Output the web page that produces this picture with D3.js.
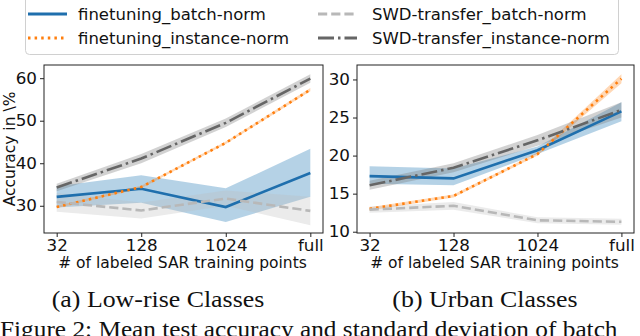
<!DOCTYPE html>
<html><head><meta charset="utf-8">
<script src="https://cdn.jsdelivr.net/npm/d3@7"></script>
<style>body{margin:0;background:#fff}svg{display:block}</style>
</head><body>
<svg id="c" width="640" height="336"></svg>
<script>
const categories = ["32", "128", "1024", "full"];
const seriesNames = ["finetuning_batch-norm", "finetuning_instance-norm", "SWD-transfer_batch-norm", "SWD-transfer_instance-norm"];
// Low-rise panel: mean, lower, upper
const lowMeanFtBN = [32.1, 34.0, 29.7, 37.7];
const lowLoFtBN   = [29.6, 30.7, 26.2, 32.1];
const lowHiFtBN   = [34.6, 37.2, 34.1, 43.4];
const lowMeanFtIN = [29.7, 34.4, 44.8, 57.3];
const lowLoFtIN   = [29.4, 34.1, 44.5, 56.9];
const lowHiFtIN   = [30.0, 34.7, 45.1, 57.7];
const lowMeanSwdBN = [30.9, 28.9, 31.7, 28.8];
const lowLoSwdBN   = [28.6, 27.0, 30.0, 25.4];
const lowHiSwdBN   = [33.0, 30.8, 33.6, 32.1];
const lowMeanSwdIN = [34.3, 41.1, 49.5, 59.9];
const lowLoSwdIN   = [33.4, 40.0, 48.5, 58.9];
const lowHiSwdIN   = [35.2, 42.2, 50.5, 60.9];
// Urban panel
const urbMeanFtBN = [17.3, 17.0, 20.7, 25.8];
const urbLoFtBN   = [16.3, 16.1, 20.2, 24.5];
const urbHiFtBN   = [18.6, 18.3, 21.2, 27.0];
const urbMeanFtIN = [13.0, 14.7, 20.2, 30.1];
const urbLoFtIN   = [12.8, 14.5, 20.0, 29.5];
const urbHiFtIN   = [13.2, 14.9, 20.4, 30.7];
const urbMeanSwdBN = [12.9, 13.4, 11.5, 11.3];
const urbLoSwdBN   = [12.5, 12.9, 11.1, 10.9];
const urbHiSwdBN   = [13.3, 13.9, 11.9, 11.7];
const urbMeanSwdIN = [16.1, 18.4, 22.0, 26.0];
const urbLoSwdIN   = [15.5, 17.8, 21.3, 25.0];
const urbHiSwdIN   = [16.7, 19.0, 22.7, 27.0];
const lowTicks = [30, 40, 50, 60];
const urbTicks = [10, 15, 20, 25, 30];
const xLabel = "# of labeled SAR training points";
const yLabel = "Accuracy in \\%";
const captions = ["(a) Low-rise Classes", "(b) Urban Classes"];
const figCaption = "Figure 2:  Mean test accuracy and standard deviation of batch";

const styles = [
  {color:"#1f6fad", fill:"#1f77b4", fo:0.33, dash:null},
  {color:"#ff7f0e", fill:"#ff7f0e", fo:0.3, dash:"2.5,4.1"},
  {color:"#b8b8b8", fill:"#bdbdbd", fo:0.3, dash:"9.2,4"},
  {color:"#666666", fill:"#777777", fo:0.33, dash:"16,4,2.5,4"}
];
const svg = d3.select("#c");
const font = "DejaVu Sans, sans-serif";
const serif = "Liberation Serif, Times New Roman, serif";
const SX = 1.08; // horizontal stretch of the reference raster

function stretch(sel, k){
  sel.each(function(){ const w = this.getComputedTextLength();
    d3.select(this).attr("textLength", w*k).attr("lengthAdjust","spacingAndGlyphs"); });
}

function panel(cfg){
  const x = d3.scalePoint().domain(categories).range([cfg.x0, cfg.x1]).padding(0.15);
  const y = d3.scaleLinear().domain(cfg.dom).range([233, 65]);
  const g = svg.append("g");
  const data = cfg.series;
  const area = d3.area().x((d,i)=>x(categories[i])).y0(d=>y(d[1])).y1(d=>y(d[2]));
  const line = d3.line().x((d,i)=>x(categories[i])).y(d=>y(d[0]));
  data.forEach((s,k)=>{
    const pts = s[0].map((m,i)=>[m, s[1][i], s[2][i]]);
    const st = styles[k];
    g.append("path").attr("d", area(pts)).attr("fill", st.fill).attr("fill-opacity", st.fo).attr("stroke","none");
  });
  data.forEach((s,k)=>{
    const pts = s[0].map((m,i)=>[m, s[1][i], s[2][i]]);
    const st = styles[k];
    g.append("path").attr("d", line(pts)).attr("fill","none").attr("stroke", st.color)
      .attr("stroke-width", 2.6).attr("stroke-dasharray", st.dash);
  });
  g.append("rect").attr("x", cfg.x0).attr("y", 65).attr("width", cfg.x1-cfg.x0).attr("height", 168)
    .attr("fill","none").attr("stroke","#222").attr("stroke-width",1);
  const xa = g.append("g").attr("transform","translate(0,233)").call(d3.axisBottom(x).tickSize(4).tickPadding(3));
  const ya = g.append("g").attr("transform",`translate(${cfg.x0},0)`).call(d3.axisLeft(y).tickValues(cfg.ticks).tickSize(4).tickPadding(3));
  [xa,ya].forEach(a=>{
    a.select(".domain").remove();
    a.selectAll("text").attr("font-family", font).attr("font-size", 15.5).attr("fill","#111");
    a.selectAll("line").attr("stroke","#222");
    stretch(a.selectAll("text"), SX);
  });
  const xl = g.append("text").attr("x", (cfg.x0+cfg.x1)/2 - 1).attr("y", 268).attr("text-anchor","middle")
    .attr("font-family", font).attr("font-size", 15.5).attr("fill","#111").text(xLabel);
  stretch(xl, 1.0);
  const cap = g.append("text").attr("x", cfg.capX).attr("y", 307).attr("text-anchor","middle")
    .attr("font-family", serif).attr("font-size", 23.5).attr("fill","#111").text(cfg.caption);
  stretch(cap, 1.1);
}

panel({x0:44, x1:323, dom:[23.6, 63.1], ticks: lowTicks, caption: captions[0], capX:158,
  series:[[lowMeanFtBN,lowLoFtBN,lowHiFtBN],[lowMeanFtIN,lowLoFtIN,lowHiFtIN],[lowMeanSwdBN,lowLoSwdBN,lowHiSwdBN],[lowMeanSwdIN,lowLoSwdIN,lowHiSwdIN]]});
panel({x0:357, x1:634, dom:[9.83, 31.9], ticks: urbTicks, caption: captions[1], capX:485,
  series:[[urbMeanFtBN,urbLoFtBN,urbHiFtBN],[urbMeanFtIN,urbLoFtIN,urbHiFtIN],[urbMeanSwdBN,urbLoSwdBN,urbHiSwdBN],[urbMeanSwdIN,urbLoSwdIN,urbHiSwdIN]]});

// y label
svg.append("text").attr("transform","translate(15,149) rotate(-90)").attr("text-anchor","middle")
  .attr("font-family", font).attr("font-size", 15.5).attr("fill","#111").text(yLabel);

// legend
const lg = svg.append("g");
lg.append("rect").attr("x",25.5).attr("y",-6).attr("width",593).attr("height",60.5).attr("rx",4)
  .attr("fill","#fff").attr("fill-opacity",0.85).attr("stroke","#d0d0d0").attr("stroke-width",1);
const legPos = [[28,14],[28,38],[318,14],[318,38]];
seriesNames.forEach((n,k)=>{
  const [lx,ly] = legPos[k];
  const st = styles[k];
  lg.append("line").attr("x1",lx).attr("x2",lx+39).attr("y1",ly).attr("y2",ly)
    .attr("stroke", st.color).attr("stroke-width",3).attr("stroke-dasharray", st.dash);
  const t = lg.append("text").attr("x", lx + (k<2?50:54)).attr("y", ly+6).attr("font-family", font).attr("font-size",16.5)
    .attr("fill","#111").text(n);
  stretch(t, 1.0);
});

const fc = svg.append("text").attr("x",0).attr("y",337).attr("font-family", serif)
  .attr("font-size",23).attr("fill","#111").text(figCaption);
stretch(fc, 1.1);
</script>
</body></html>
